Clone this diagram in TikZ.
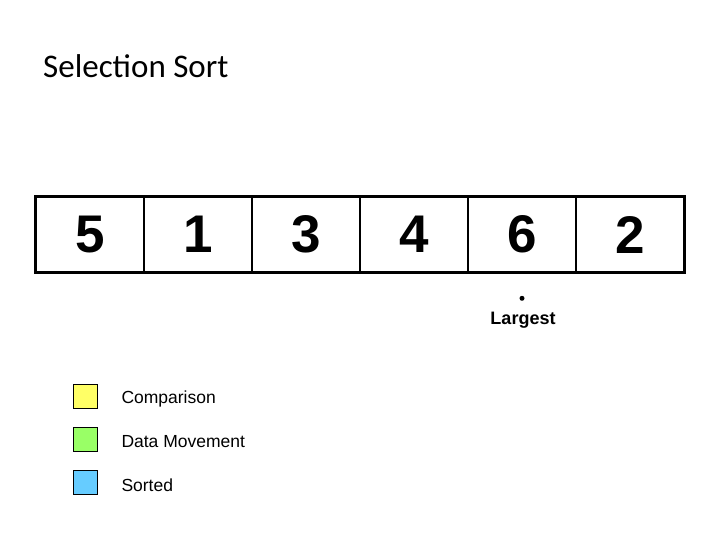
\documentclass[tikz,border=0pt]{standalone}
\usepackage{fontspec}
\setmainfont{Liberation Sans}
\newfontfamily\titlefont{Carlito}
\usetikzlibrary{positioning}
\definecolor{cmpyellow}{RGB}{255,255,102}
\definecolor{movegreen}{RGB}{153,255,102}
\definecolor{sortblue}{RGB}{102,204,255}
\tikzset{
  cell/.style={draw, line width=1.2pt, minimum width=108pt, minimum height=75pt, inner sep=0pt, font=\fontsize{53}{53}\selectfont\bfseries},
  key/.style={draw, line width=0.6pt, minimum size=24pt, inner sep=0pt},
  keytext/.style={inner sep=0pt, font=\fontsize{17.5}{20}\selectfont}
}
\begin{document}
\begin{tikzpicture}[x=1pt, y=-1pt]
\useasboundingbox (0,0) rectangle (720,540);
\node[anchor=base west, inner sep=0pt, font=\titlefont\fontsize{33}{36}\selectfont] (title) at (43,78) {Selection Sort};
% the array
\foreach \v [count=\i] in {5,1,3,4,6,2}
  \node[cell] (c\i) at (-18+108*\i, 234.5) {\raisebox{-2pt}{\v}};
\draw[line width=2.5pt] (c1.north west) rectangle (c6.south east);
% marker for the largest value
\node[circle, fill, inner sep=0pt, minimum size=5pt, below=23pt of c5] (dot) {};
\node[anchor=base, inner sep=0pt, font=\fontsize{18}{20}\selectfont\bfseries] (largest) at (523,324) {Largest};
% legend
\node[key, fill=cmpyellow] (k1) at (85,396) {};
\node[key, fill=movegreen] (k2) at (85,439) {};
\node[key, fill=sortblue] (k3) at (85,482) {};
\node[keytext, right=24pt of k1, yshift=-3pt] (l1) {Comparison};
\node[keytext, right=24pt of k2, yshift=-3pt] (l2) {Data Movement};
\node[keytext, right=24pt of k3, yshift=-3pt] (l3) {Sorted};
\end{tikzpicture}
\end{document}
